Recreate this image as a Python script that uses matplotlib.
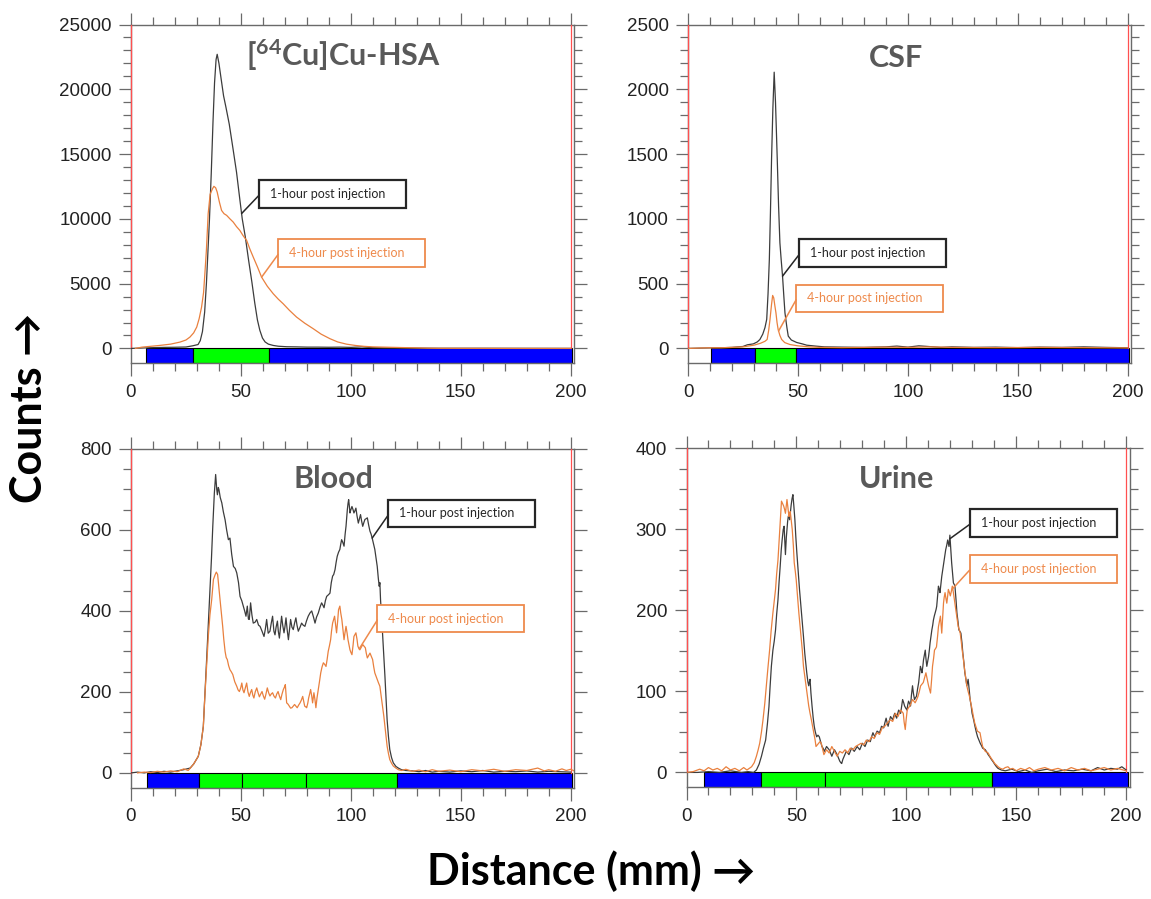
import numpy as np
import matplotlib
matplotlib.use("Agg")
import matplotlib.pyplot as plt
from matplotlib.patches import Rectangle

# ---------------- data (distance in mm, counts) ----------------
hsa_1h_mm = [0, 5, 10, 15, 20, 25, 28, 30.5, 31.5, 32.5,
             33.5, 34.3, 35.0, 35.7, 36.5, 37.3, 38.0, 38.7, 39.2, 40.0,
             41.0, 42.1, 43.2, 44.7, 46.5, 48.0, 49.5, 50.6, 52.0, 53.5,
             55.0, 56.3, 57.5, 58.6, 59.8, 61.0, 62.5, 64.7, 67.0, 70.8,
             75, 80, 85, 90, 95, 100, 105, 110, 115, 120,
             130, 140, 160, 180, 200]
hsa_1h_counts = [0, 30, 60, 80, 90, 110, 200, 300, 600, 1300,
                 2800, 5000, 7500, 10000, 13500, 17500, 20500, 22300, 22700, 22000,
                 20800, 19500, 18600, 17300, 15300, 13600, 11500, 10000, 8600, 6800,
                 5100, 3500, 2200, 1400, 800, 500, 330, 230, 170, 130,
                 120, 100, 100, 90, 100, 80, 120, 60, 40, 30,
                 20, 10, 10, 5, 0]

hsa_4h_mm = [2, 5, 10, 13, 18, 22.3, 25, 26.8, 28.5, 29.9,
             31.0, 32.1, 33.0, 33.6, 34.3, 35.1, 36.0, 37.0, 37.7, 38.5,
             39.2, 40.2, 41.2, 42.3, 43.5, 45.0, 46.5, 48.0, 49.5, 51.0,
             52.6, 54.0, 55.6, 57.5, 59.4, 62.0, 64.7, 67.0, 69.2, 72.0,
             75.3, 79.0, 82.9, 86.5, 90.5, 94.0, 98.0, 102, 106, 110,
             115, 120, 125, 130, 135, 140, 160, 180, 200]
hsa_4h_counts = [0, 100, 180, 230, 330, 490, 650, 875, 1200, 1650,
                 2300, 3190, 4300, 5765, 7600, 10400, 11900, 12300, 12510, 12400,
                 12070, 11300, 10650, 10400, 10270, 10000, 9750, 9400, 9110, 8700,
                 8340, 7700, 7050, 6300, 5500, 4800, 4220, 3800, 3450, 2950,
                 2420, 1950, 1520, 1100, 750, 500, 330, 230, 160, 120,
                 100, 80, 60, 40, 20, 10, 5, 0, 0]

csf_1h_mm = [0, 5, 10, 15, 20, 25, 27, 29.7, 31.5, 32.7,
             34.0, 35.0, 35.8, 36.4, 37.0, 37.5, 38.0, 38.6, 39.2, 39.8,
             40.6, 41.2, 41.8, 42.4, 43.0, 43.6, 44.1, 45.0, 45.6, 47.0,
             49.4, 52, 54, 58, 62, 70, 80, 90, 95, 100,
             105, 110, 115, 120, 130, 140, 150, 160, 170, 180,
             190, 200]
csf_1h_counts = [0, 2, 4, 5, 8, 15, 28, 35, 50, 69,
                 110, 160, 224, 420, 687, 1050, 1458, 1850, 2132, 1900,
                 1458, 1100, 815, 680, 558, 400, 275, 160, 95, 65,
                 46, 35, 25, 18, 12, 10, 8, 12, 18, 10,
                 20, 14, 8, 12, 8, 10, 6, 10, 8, 12,
                 8, 5]

csf_4h_mm = [0, 5, 10, 15, 20, 25, 30, 33, 35, 36,
             36.7, 37.3, 38.0, 38.5, 39.0, 39.5, 40.0, 40.5, 41.0, 41.8,
             42.6, 44.0, 46.4, 50, 55, 60, 70, 80, 90, 100,
             110, 120, 140, 160, 180, 200]
csf_4h_counts = [0, 3, 5, 5, 8, 12, 25, 40, 55, 69,
                 140, 224, 340, 409, 390, 330, 275, 200, 146, 100,
                 69, 45, 30, 20, 12, 8, 6, 8, 10, 8,
                 12, 8, 6, 8, 6, 4]

blood_1h_mm = [0, 3, 6, 9, 12, 15, 18, 21, 24, 26.9,
               28.5, 30.6, 31.8, 32.9, 33.6, 34.4, 35.2, 35.9, 36.6, 37.2,
               37.9, 38.5, 39.0, 39.3, 39.7, 40.0, 40.6, 41.3, 42.0, 42.8,
               43.5, 44.3, 45.0, 45.8, 46.6, 47.4, 48.1, 48.9, 49.6, 50.4,
               51.1, 51.7, 52.3, 52.9, 53.4, 53.8, 54.4, 55.0, 55.6, 56.4,
               57.2, 58.0, 58.7, 59.6, 60.5, 61.1, 61.7, 62.4, 63.2, 63.8,
               64.4, 65.0, 65.5, 66.0, 66.6, 67.0, 67.5, 68.0, 68.5, 69.0,
               69.6, 70.0, 70.5, 71.0, 71.6, 72.1, 72.6, 73.2, 73.8, 74.4,
               75.0, 75.5, 76.1, 76.9, 77.6, 78.3, 79.1, 79.8, 80.6, 81.4,
               82.2, 83.0, 83.7, 84.4, 85.2, 86.0, 86.7, 87.2, 87.8, 88.4,
               89.0, 89.8, 90.5, 91.1, 91.7, 92.2, 92.8, 93.3, 93.8, 94.4,
               95.0, 95.4, 95.8, 96.3, 96.9, 97.4, 97.8, 98.1, 98.4, 98.7,
               99.0, 99.3, 99.6, 100.0, 100.5, 101.0, 101.4, 101.9, 102.3, 102.8,
               103.4, 103.9, 104.4, 104.9, 105.4, 105.9, 106.4, 107.0, 107.5, 108.1,
               108.7, 109.2, 109.7, 110.3, 110.9, 111.5, 112.0, 112.5, 112.9, 113.2,
               113.5, 114.0, 114.4, 115.0, 115.5, 116.0, 116.5, 117.1, 117.7, 118.5,
               119.3, 120.5, 121.6, 123, 125, 128, 131, 134, 137, 140,
               145, 150, 155, 160, 165, 170, 175, 180, 185, 190,
               195, 200]
blood_1h_counts = [0, 2, 0, 3, 1, 4, 2, 5, 8, 12,
                   22, 41, 70, 115, 190, 280, 370, 445, 530, 609,
                   690, 737, 700, 687, 705, 700, 680, 667, 645, 625,
                   600, 576, 580, 540, 510, 505, 494, 470, 436, 425,
                   412, 400, 387, 412, 380, 379, 420, 390, 370, 372,
                   379, 365, 362, 350, 337, 355, 379, 345, 350, 370,
                   387, 350, 341, 360, 375, 350, 333, 360, 387, 365,
                   346, 360, 383, 355, 329, 355, 379, 360, 354, 370,
                   383, 365, 350, 360, 370, 365, 362, 375, 387, 395,
                   400, 385, 370, 385, 395, 410, 420, 415, 408, 425,
                   436, 440, 444, 470, 486, 490, 502, 520, 535, 545,
                   552, 565, 576, 570, 560, 590, 609, 630, 650, 665,
                   675, 660, 642, 650, 658, 650, 642, 648, 654, 635,
                   617, 628, 638, 622, 609, 618, 626, 628, 630, 612,
                   597, 590, 580, 566, 552, 530, 510, 480, 461, 470,
                   428, 385, 346, 290, 239, 185, 131, 90, 58, 38,
                   25, 16, 12, 8, 6, 5, 3, 6, 2, 4,
                   2, 5, 3, 6, 2, 4, 3, 5, 2, 4,
                   3, 2]

blood_4h_mm = [3, 6, 9, 12, 15, 18, 21, 24, 26, 27,
               28.5, 30.6, 31.8, 32.9, 33.6, 34.4, 35.2, 35.9, 36.7, 37.5,
               38.3, 38.8, 39.4, 40.0, 40.5, 41.1, 41.7, 42.2, 42.8, 43.3,
               43.8, 44.4, 45.0, 45.6, 46.3, 47.2, 48.1, 48.7, 49.3, 49.9,
               50.4, 50.9, 51.4, 52.0, 52.6, 53.2, 53.8, 54.3, 54.9, 55.4,
               55.9, 56.5, 57.2, 57.8, 58.4, 59.0, 59.6, 60.2, 60.8, 61.4,
               62.0, 62.6, 63.2, 63.8, 64.4, 65.0, 65.7, 66.3, 66.9, 67.5,
               68.1, 68.7, 69.3, 69.8, 70.2, 70.5, 70.8, 71.4, 72.0, 72.6,
               73.2, 73.8, 74.4, 75.0, 75.6, 76.3, 76.9, 77.5, 78.1, 78.6,
               79.0, 79.5, 79.9, 80.4, 80.8, 81.3, 81.7, 82.2, 82.6, 83.2,
               83.7, 84.1, 84.6, 85.2, 85.8, 86.3, 86.9, 87.5, 88.1, 88.7,
               89.2, 89.7, 90.3, 90.8, 91.2, 91.7, 92.2, 92.6, 93.1, 93.5,
               94.0, 94.4, 95.0, 95.4, 95.9, 96.4, 96.9, 97.3, 97.8, 98.3,
               98.7, 99.2, 99.6, 100.0, 100.5, 101.0, 101.4, 101.9, 102.3, 102.8,
               103.2, 103.6, 104.1, 104.7, 105.4, 106.0, 106.6, 107.0, 107.5, 108.1,
               108.7, 109.3, 109.9, 110.4, 110.9, 111.5, 112.0, 112.6, 113.2, 113.8,
               114.4, 115.0, 115.5, 116.0, 116.5, 117.1, 117.7, 118.5, 119.3, 120.5,
               121.6, 123, 125, 128, 131, 134, 137, 140, 145, 150,
               155, 160, 165, 170, 175, 180, 185, 188, 190, 193,
               196, 198, 200, 202]
blood_4h_counts = [0, 2, 1, 4, 2, 5, 3, 10, 6, 12,
                   22, 41, 70, 115, 190, 263, 340, 390, 428, 478,
                   490, 496, 490, 455, 428, 395, 362, 330, 300, 285,
                   280, 265, 255, 250, 243, 225, 214, 205, 201, 210,
                   222, 205, 198, 210, 222, 200, 189, 198, 206, 192,
                   185, 200, 210, 198, 188, 195, 201, 190, 182, 195,
                   210, 198, 190, 195, 198, 190, 185, 195, 201, 190,
                   181, 195, 206, 212, 218, 195, 173, 170, 165, 160,
                   161, 165, 169, 165, 161, 168, 173, 180, 189, 176,
                   165, 163, 161, 172, 185, 196, 206, 190, 173, 198,
                   180, 161, 185, 206, 228, 247, 262, 272, 268, 263,
                   280, 300, 315, 329, 350, 370, 380, 387, 365, 346,
                   375, 403, 412, 395, 379, 355, 329, 345, 362, 345,
                   329, 315, 304, 298, 292, 315, 337, 342, 346, 330,
                   313, 308, 304, 310, 317, 313, 309, 296, 284, 290,
                   296, 288, 280, 262, 247, 238, 230, 222, 214, 190,
                   165, 140, 115, 90, 66, 48, 33, 24, 17, 12,
                   8, 6, 9, 4, 7, 3, 8, 4, 7, 3,
                   8, 5, 9, 4, 8, 6, 12, 5, 8, 4,
                   10, 6, 9, 4]

urine_1h_mm = [0, 5, 10, 15, 20, 25, 28, 30.5, 31.8, 33.0,
               34.1, 35.0, 36.0, 36.8, 37.5, 38.0, 38.6, 39.3, 39.9, 40.5,
               41.0, 41.6, 42.1, 42.6, 43.1, 43.5, 44.0, 44.4, 44.7, 45.0,
               45.4, 45.7, 46.0, 46.3, 46.6, 46.9, 47.2, 47.6, 48.0, 48.4,
               48.8, 49.3, 49.7, 50.2, 50.8, 51.4, 52.0, 52.6, 53.2, 53.8,
               54.3, 54.7, 55.2, 55.6, 55.9, 56.2, 56.6, 57.1, 57.6, 58.1,
               58.6, 59.2, 59.8, 60.4, 61.0, 61.6, 62.1, 62.7, 63.2, 63.7,
               64.3, 64.9, 65.5, 66.1, 66.7, 67.3, 67.9, 68.5, 69.1, 69.7,
               70.2, 70.6, 71.1, 71.7, 72.2, 72.7, 73.3, 73.9, 74.5, 75.1,
               75.7, 76.3, 77.0, 77.6, 78.2, 78.8, 79.4, 80.0, 80.6, 81.2,
               81.8, 82.4, 83.0, 83.6, 84.2, 84.8, 85.3, 85.7, 86.2, 86.7,
               87.2, 87.8, 88.3, 88.7, 89.2, 89.7, 90.2, 90.8, 91.2, 91.7,
               92.2, 92.8, 93.3, 93.8, 94.2, 94.7, 95.1, 95.6, 96.0, 96.5,
               97.0, 97.4, 97.9, 98.3, 98.8, 99.2, 99.8, 100.3, 100.6, 101.0,
               101.5, 101.9, 102.3, 102.8, 103.2, 103.7, 104.1, 104.6, 105.1, 105.6,
               106.0, 106.4, 106.8, 107.1, 107.5, 107.8, 108.2, 108.6, 108.9, 109.3,
               109.7, 110.1, 110.5, 110.8, 111.2, 111.6, 112.0, 112.3, 112.7, 113.1,
               113.5, 113.8, 114.2, 114.6, 115.0, 115.3, 115.7, 116.1, 116.6, 117.0,
               117.5, 117.9, 118.4, 118.8, 119.1, 119.4, 119.8, 120.2, 120.6, 121.0,
               121.4, 121.8, 122.1, 122.6, 123.0, 123.5, 123.9, 124.4, 124.8, 125.3,
               125.7, 126.2, 126.6, 127.1, 127.5, 127.8, 128.1, 128.6, 129.0, 129.5,
               129.9, 130.6, 131.2, 131.8, 132.4, 133.0, 133.6, 134.2, 134.7, 135.3,
               135.9, 136.6, 137.2, 138.0, 138.7, 139.5, 140.2, 141.0, 141.7, 142.5,
               143.2, 145, 148, 151, 154, 157, 160, 164, 168, 172,
               176, 180, 184, 187, 190, 193, 196, 198, 200]
urine_1h_counts = [0, 0, 1, 0, 2, 0, 1, 0, 3, 10,
                   20, 30, 40, 60, 81, 105, 131, 151, 162, 176,
                   195, 213, 235, 254, 275, 287, 300, 304, 285, 269,
                   290, 300, 310, 316, 318, 312, 320, 330, 338, 343,
                   330, 312, 292, 271, 248, 226, 207, 188, 168, 147,
                   133, 123, 112, 107, 112, 115, 98, 82, 68, 57,
                   50, 44, 46, 44, 38, 32, 30, 26, 29, 32,
                   30, 28, 24, 20, 24, 28, 25, 22, 18, 14,
                   12, 11, 16, 20, 23, 26, 24, 22, 26, 30,
                   28, 26, 29, 32, 30, 28, 32, 36, 34, 32,
                   36, 40, 39, 38, 44, 49, 46, 44, 48, 51,
                   50, 49, 53, 57, 56, 55, 61, 67, 62, 57,
                   63, 69, 67, 65, 69, 73, 70, 67, 72, 77,
                   75, 73, 82, 90, 86, 82, 79, 77, 83, 88,
                   85, 82, 95, 107, 98, 90, 92, 94, 103, 111,
                   121, 131, 127, 123, 131, 139, 145, 151, 141, 131,
                   137, 143, 152, 160, 168, 176, 182, 188, 193, 197,
                   201, 205, 218, 230, 226, 222, 232, 242, 251, 259,
                   267, 275, 281, 287, 283, 279, 293, 276, 259, 246,
                   234, 232, 230, 213, 197, 186, 176, 174, 172, 160,
                   147, 135, 123, 115, 107, 111, 115, 102, 90, 82,
                   73, 65, 57, 50, 44, 40, 36, 33, 30, 29,
                   28, 25, 22, 19, 16, 13, 10, 7, 5, 4,
                   3, 2, 4, 1, 3, 0, 2, 4, 1, 3,
                   2, 4, 2, 6, 3, 5, 4, 7, 3]

urine_4h_mm = [0, 3, 6, 8, 10, 12, 14, 16, 18, 20,
               22, 24, 26, 27.5, 29.6, 30.8, 31.8, 32.6, 33.3, 34.1,
               34.8, 35.6, 36.3, 37.0, 37.8, 38.5, 39.3, 39.9, 40.5, 41.0,
               41.6, 42.1, 42.6, 43.2, 43.7, 44.2, 44.6, 45.0, 45.4, 45.7,
               46.2, 46.6, 46.9, 47.2, 47.7, 48.1, 48.6, 49.0, 49.5, 49.9,
               50.5, 51.1, 51.6, 52.1, 52.7, 53.2, 53.8, 54.4, 55.0, 55.6,
               56.2, 56.8, 57.4, 58.0, 58.5, 58.9, 59.5, 60.1, 60.7, 61.3,
               61.9, 62.5, 63.1, 63.7, 64.3, 64.9, 65.5, 66.1, 66.7, 67.3,
               67.9, 68.5, 69.1, 69.7, 70.3, 70.9, 71.5, 72.1, 72.7, 73.3,
               73.9, 74.5, 75.1, 75.7, 76.3, 76.9, 77.5, 78.2, 78.8, 79.4,
               80.0, 80.6, 81.2, 81.8, 82.4, 83.0, 83.6, 84.2, 84.8, 85.4,
               86.0, 86.6, 87.2, 87.8, 88.4, 89.0, 89.6, 90.2, 90.8, 91.4,
               92.0, 92.6, 93.2, 93.8, 94.4, 95.0, 95.6, 96.2, 96.8, 97.4,
               98.0, 98.6, 99.0, 99.5, 99.9, 100.4, 101.0, 101.6, 102.2, 102.8,
               103.4, 104.0, 104.7, 105.3, 105.9, 106.5, 107.1, 107.7, 108.3, 108.9,
               109.5, 110.1, 110.6, 111.0, 111.5, 111.9, 112.4, 112.8, 113.3, 113.7,
               114.2, 114.6, 115.1, 115.5, 115.8, 116.1, 116.5, 116.9, 117.2, 117.6,
               118.0, 118.4, 118.8, 119.1, 119.6, 120.0, 120.5, 120.9, 121.4, 121.8,
               122.3, 122.7, 123.2, 123.6, 124.1, 124.5, 125.0, 125.4, 125.9, 126.3,
               126.9, 127.5, 128.1, 128.7, 129.3, 129.9, 130.5, 131.1, 131.7, 132.3,
               132.9, 133.5, 134.1, 134.7, 135.3, 135.9, 136.6, 137.2, 138.0, 138.7,
               139.5, 140.2, 141.0, 141.7, 142.8, 143.9, 145, 146.2, 147.3, 148.4,
               150, 152, 154, 156, 158, 160, 163, 166, 169, 172,
               175, 178, 181, 184, 187, 190, 193, 196, 200]
urine_4h_counts = [0, 1, 4, 2, 6, 3, 5, 2, 7, 3,
                   5, 2, 6, 3, 7, 12, 20, 28, 36, 50,
                   65, 85, 107, 128, 151, 175, 197, 212, 226, 245,
                   262, 285, 308, 335, 332, 329, 325, 320, 330, 337,
                   325, 316, 320, 322, 310, 300, 280, 259, 248, 238,
                   217, 197, 182, 168, 150, 131, 119, 107, 95, 82,
                   73, 65, 56, 47, 40, 32, 34, 36, 38, 36,
                   29, 22, 25, 28, 26, 24, 28, 32, 29, 26,
                   23, 20, 23, 26, 25, 24, 26, 28, 26, 24,
                   27, 30, 29, 28, 30, 32, 33, 34, 35, 36,
                   35, 34, 37, 40, 39, 38, 41, 44, 43, 42,
                   46, 49, 48, 47, 51, 55, 56, 57, 59, 61,
                   63, 65, 64, 63, 68, 73, 71, 69, 73, 77,
                   75, 73, 62, 53, 65, 77, 80, 82, 86, 90,
                   88, 86, 90, 94, 100, 107, 109, 111, 117, 123,
                   115, 107, 102, 98, 115, 131, 141, 151, 153, 155,
                   168, 180, 187, 193, 182, 172, 191, 209, 216, 222,
                   215, 209, 218, 226, 222, 218, 224, 230, 222, 214,
                   205, 197, 188, 180, 176, 172, 161, 151, 141, 131,
                   119, 107, 100, 94, 86, 78, 69, 61, 56, 51,
                   50, 49, 40, 32, 29, 26, 25, 24, 20, 17,
                   14, 11, 9, 7, 5, 4, 6, 7, 4, 5,
                   2, 5, 3, 6, 2, 4, 6, 3, 5, 2,
                   6, 3, 5, 2, 4, 6, 3, 5, 2]

# strip of coloured regions under each chromatogram (region edges in mm)
hsa_strip_edges = [6.9, 28.2, 62.6, 200.5]
hsa_strip_colors = ["#0000FF", "#00FF00", "#0000FF"]
csf_strip_edges = [10.4, 30.7, 49.0, 200.6]
csf_strip_colors = ["#0000FF", "#00FF00", "#0000FF"]
blood_strip_edges = [7.5, 31.1, 50.5, 79.5, 120.8, 200.5]
blood_strip_colors = ["#0000FF", "#00FF00", "#00FF00", "#00FF00", "#0000FF"]
urine_strip_edges = [7.9, 34.1, 63.0, 139.0, 200.6]
urine_strip_colors = ["#0000FF", "#00FF00", "#00FF00", "#0000FF"]

titles = ["[$\\mathregular{^{64}}$Cu]Cu-HSA", "CSF", "Blood", "Urine"]
y_tops = [25000, 2500, 800, 400]
y_major = [5000, 500, 200, 100]
y_minor = [1000, 100, 50, 25]
label_1h = "1-hour post injection"
label_4h = "4-hour post injection"

# ---------------- styling ----------------
FIG_W, FIG_H = 1151, 899
C_1H = "#3c3c3c"
C_4H = "#E9803E"
C_BOX_1H = "#262626"
C_BOX_4H = "#EE8A4C"
C_AX = "#6a6a6a"
C_RED = "#FF5050"
TITLE_C = "#595959"

fig = plt.figure(figsize=(FIG_W / 100, FIG_H / 100), dpi=100)

AX_W, AX_H = 443, 338.5
# (left px, bottom px)
ax_px = [(131, 363), (688, 363), (131, 787.5), (686.5, 787)]

panels = [
    dict(l1=(hsa_1h_mm, hsa_1h_counts), l4=(hsa_4h_mm, hsa_4h_counts),
         edges=hsa_strip_edges, cols=hsa_strip_colors,
         title_pos=(0.479, 0.876),
         box1=(0.289, 0.459), box4=(0.332, 0.284), t1=50.3, t4=59.4),
    dict(l1=(csf_1h_mm, csf_1h_counts), l4=(csf_4h_mm, csf_4h_counts),
         edges=csf_strip_edges, cols=csf_strip_colors,
         title_pos=(0.47, 0.874),
         box1=(0.251, 0.284), box4=(0.244, 0.150), t1=43.0, t4=41.2),
    dict(l1=(blood_1h_mm, blood_1h_counts), l4=(blood_4h_mm, blood_4h_counts),
         edges=blood_strip_edges, cols=blood_strip_colors,
         title_pos=(0.457, 0.884),
         box1=(0.581, 0.769), box4=(0.556, 0.458), t1=109.7, t4=103.8),
    dict(l1=(urine_1h_mm, urine_1h_counts), l4=(urine_4h_mm, urine_4h_counts),
         edges=urine_strip_edges, cols=urine_strip_colors,
         title_pos=(0.475, 0.882),
         box1=(0.639, 0.739), box4=(0.639, 0.604), t1=119.9, t4=120.6),
]

BOX_W = 147 / AX_W
BOX_H = 27.5 / AX_H
TXT_PAD = 11 / AX_W

for i, (p, (lpx, bpx)) in enumerate(zip(panels, ax_px)):
    ax = fig.add_axes([lpx / FIG_W, 1 - bpx / FIG_H, AX_W / FIG_W, AX_H / FIG_H])
    top = y_tops[i]
    bot = -0.045 * top
    ax.set_xlim(0, 201.5)
    ax.set_ylim(bot, top)

    # colour strip
    e = p["edges"]
    for a, b, c in zip(e[:-1], e[1:], p["cols"]):
        ax.add_patch(Rectangle((a, bot), b - a, -bot, facecolor=c,
                               edgecolor="black", lw=0.8, zorder=1.5))

    # red boundary lines
    for xv in (0, 200):
        ax.plot([xv, xv], [0, top], color=C_RED, lw=0.9, zorder=3, clip_on=False)

    # curves
    x1, y1 = p["l1"]
    x4, y4 = p["l4"]
    ax.plot(x1, y1, color=C_1H, lw=0.9, zorder=4)
    ax.plot(x4, y4, color=C_4H, lw=0.9, zorder=4)

    # ticks
    ax.set_xticks(np.arange(0, 201, 50))
    ax.set_xticks(np.arange(0, 201, 10), minor=True)
    ax.set_yticks(np.arange(0, top + 1, y_major[i]))
    ax.set_yticks(np.arange(0, top + 1, y_minor[i]), minor=True)
    ax.tick_params(which="both", direction="out", top=True, right=True,
                   labeltop=False, labelright=False, color=C_AX, width=0.9)
    ax.tick_params(which="major", length=9, labelsize=13.5, labelcolor="#222222")
    ax.tick_params(which="minor", length=5.5)
    ax.tick_params(axis="y", which="major", pad=5)
    ax.tick_params(axis="x", which="major", pad=6)
    for lab in ax.get_xticklabels() + ax.get_yticklabels():
        lab.set_fontfamily("Liberation Sans")
    for s in ax.spines.values():
        s.set_color(C_AX)
        s.set_linewidth(1.0)

    # title
    ax.text(p["title_pos"][0], p["title_pos"][1], titles[i], transform=ax.transAxes,
            ha="center", va="baseline", fontsize=22, fontweight="bold",
            family=["Lato", "DejaVu Sans"], color=TITLE_C)

    # annotation boxes
    for (bx, by), txt, ec, tc, tx, (xs, ys), lw in (
            (p["box1"], label_1h, C_BOX_1H, "#262626", p["t1"], (x1, y1), 1.6),
            (p["box4"], label_4h, C_BOX_4H, C_BOX_4H, p["t4"], (x4, y4), 1.3)):
        ax.add_patch(Rectangle((bx, by), BOX_W, BOX_H, transform=ax.transAxes,
                               facecolor="white", edgecolor=ec, lw=lw, zorder=5))
        ax.text(bx + TXT_PAD, by + BOX_H / 2, txt, transform=ax.transAxes,
                ha="left", va="center", fontsize=9, family=["Lato", "DejaVu Sans"],
                color=tc, zorder=6)
        ty = float(np.interp(tx, xs, ys))
        ax.annotate("", xy=(tx, ty), xycoords="data",
                    xytext=(bx, by + BOX_H * 0.45), textcoords="axes fraction",
                    arrowprops=dict(arrowstyle="-", color=ec, lw=1.1,
                                    shrinkA=0, shrinkB=0), zorder=5)

fig.text(29 / FIG_W, 1 - 408 / FIG_H, "Counts →", rotation=90, ha="center",
         va="center", fontsize=31, fontweight="bold", family=["Lato", "DejaVu Sans"])
fig.text(591 / FIG_W, 1 - 885 / FIG_H, "Distance (mm) →", ha="center",
         va="baseline", fontsize=31, fontweight="bold", family=["Lato", "DejaVu Sans"])

fig.savefig("out.png", dpi=100, facecolor="white")
